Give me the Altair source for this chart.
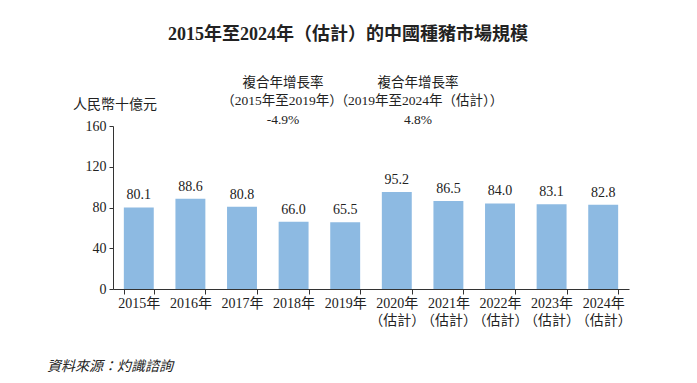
import altair as alt
import pandas as pd

years = ["2015年", "2016年", "2017年", "2018年", "2019年",
         "2020年\n（估計）", "2021年\n（估計）", "2022年\n（估計）", "2023年\n（估計）", "2024年\n（估計）"]
values = [80.1, 88.6, 80.8, 66.0, 65.5, 95.2, 86.5, 84.0, 83.1, 82.8]
y_ticks = [0, 40, 80, 120, 160]

title_text = "2015年至2024年（估計）的中國種豬市場規模"
unit_text = "人民幣十億元"
cagr1 = ["複合年增長率", "（2015年至2019年）", "-4.9%"]
cagr2 = ["複合年增長率", "（2019年至2024年（估計））", "4.8%"]
source_text = "資料來源：灼識諮詢"

FONT = "Liberation Serif, Noto Sans CJK TC, serif"
BAR = "#8DBAE2"

df = pd.DataFrame({"year": years, "value": values, "label": [f"{v:.1f}" for v in values]})

W, H = 516, 163

base = alt.Chart(df).encode(
    x=alt.X("year:N", sort=years, title=None,
            scale=alt.Scale(paddingInner=0.42, paddingOuter=0.21),
            axis=alt.Axis(labelExpr="split(datum.label, '\\n')", labelAngle=0,
                          labelFont=FONT, labelFontSize=14, labelColor="#222",
                          labelLineHeight=17, labelPadding=2, labelBaseline="top",
                          tickSize=5, tickBand="extent", tickColor="#333",
                          domainColor="#333", grid=False)),
)

bars = base.mark_bar(color=BAR).encode(
    y=alt.Y("value:Q", title=None,
            scale=alt.Scale(domain=[0, 160], nice=False),
            axis=alt.Axis(values=y_ticks, labelFont=FONT, labelFontSize=14, labelColor="#222",
                          tickSize=4, tickColor="#333", domainColor="#333",
                          labelPadding=3, grid=False))
)

labels = base.mark_text(font=FONT, fontSize=14, color="#222", baseline="bottom", dy=-5).encode(
    y="value:Q", text="label:N"
)

def txt(s, x, y, size=14, weight="normal", align="center", style="normal"):
    return alt.Chart(pd.DataFrame({"t": [s]})).mark_text(
        font=FONT, fontSize=size, fontWeight=weight, align=align, color="#222",
        fontStyle=style, baseline="middle"
    ).encode(text="t:N", x=alt.value(x), y=alt.value(y))

annots = [
    txt(title_text, 235, -91, size=18, weight="bold"),
    txt(unit_text, 2, -21, size=14),
    txt(cagr1[0], 170, -43, size=13.5), txt(cagr1[1], 169, -25, size=13.5), txt(cagr1[2], 170, -6, size=13.5),
    txt(cagr2[0], 305, -43, size=13.5), txt(cagr2[1], 306, -25, size=13.5), txt(cagr2[2], 305, -6, size=13.5),
    txt(source_text, -66, 241, size=14, align="left", style="italic"),
]

chart = alt.layer(bars, labels, *annots).properties(
    width=W, height=H,
    autosize=alt.AutoSizeParams(type="none"),
    padding={"left": 105, "top": 118, "right": 60, "bottom": 85},
).configure(background="white").configure_view(strokeWidth=0, stroke="transparent")

chart.save("out.html", embed_options={"renderer": "svg", "actions": False})
